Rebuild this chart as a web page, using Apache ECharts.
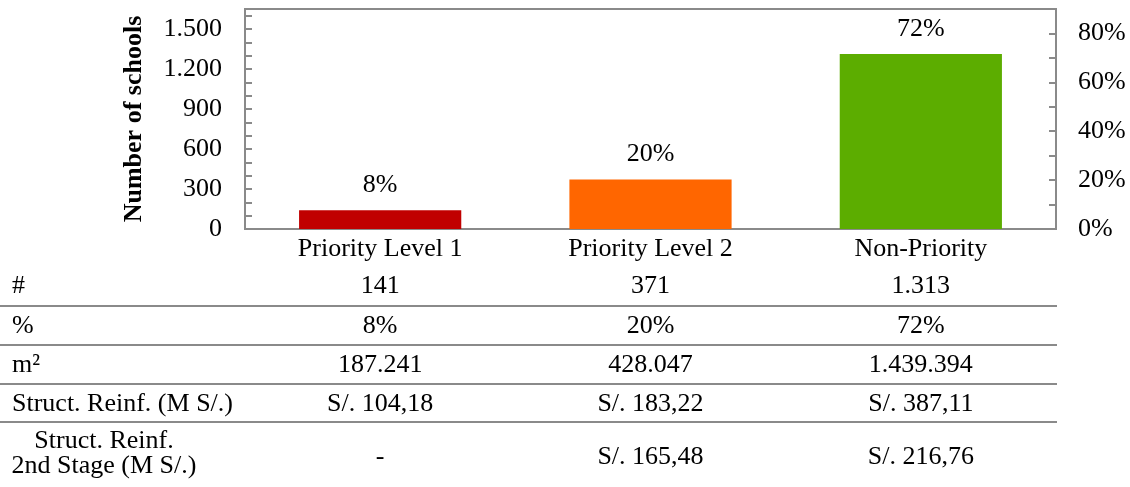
<!DOCTYPE html>
<html>
<head>
<meta charset="utf-8">
<script src="https://cdn.jsdelivr.net/npm/echarts@6/dist/echarts.min.js"></script>
<style>
  html, body { margin: 0; padding: 0; background: #fff; }
  #chart { width: 1130px; height: 487px; }
</style>
</head>
<body>
<div id="chart"></div>
<script>
// data
const categories = ['Priority Level 1', 'Priority Level 2', 'Non-Priority']
const schools = [141, 371, 1313]
const shares = ['8%', '20%', '72%']
const area = ['187.241', '428.047', '1.439.394']
const reinf = ['S/. 104,18', 'S/. 183,22', 'S/. 387,11']
const reinf2 = ['-', 'S/. 165,48', 'S/. 216,76']
const barColors = ['#c00000', '#ff6600', '#5cad00']
const rowLabels = ['#', '%', 'm²', 'Struct. Reinf. (M S/.)']

const font = 'Liberation Serif'
const fs = 26
const gray = '#8a8a8a'

const chart = echarts.init(document.getElementById('chart'))

const fmtThousands = v => String(v).replace(/\B(?=(\d{3})+(?!\d))/g, '.')

// each table row is an extra category axis under the grid
const tableRow = (data, offset) => ({
  type: 'category',
  data: data,
  position: 'bottom',
  offset: offset,
  axisLine: { show: false },
  axisTick: { show: false },
  splitLine: { show: false },
  axisLabel: {
    margin: 0,
    verticalAlign: 'middle',
    color: '#000',
    fontFamily: font,
    fontSize: fs
  }
})

const tableLines = [306, 345, 384, 422].map(y => ({
  type: 'line',
  shape: { x1: 0, y1: y, x2: 1057, y2: y },
  style: { stroke: gray, lineWidth: 2 }
}))

const rowTexts = rowLabels.map((t, i) => ({
  type: 'text',
  left: 12,
  top: [287, 327, 366, 405][i] - 14,
  style: { text: t, fill: '#000', font: fs + 'px "' + font + '"' }
}))

const option = {
  animation: false,
  grid: {
    left: 245,
    right: 74,
    top: 9,
    bottom: 258,
    show: true,
    borderColor: gray,
    borderWidth: 2
  },
  xAxis: [
    {
      type: 'category',
      data: categories,
      axisLine: { lineStyle: { color: gray, width: 2 } },
      axisTick: { show: false },
      axisLabel: {
        margin: 20,
        verticalAlign: 'middle',
        color: '#000',
        fontFamily: font,
        fontSize: fs
      }
    },
    tableRow(schools.map(fmtThousands), 57),
    tableRow(shares, 97),
    tableRow(area, 136),
    tableRow(reinf, 175),
    tableRow(reinf2, 228)
  ],
  yAxis: [
    {
      type: 'value',
      min: 0,
      max: 1650,
      interval: 100,
      name: 'Number of schools',
      nameLocation: 'middle',
      nameGap: 98,
      nameTextStyle: { color: '#000', fontFamily: font, fontSize: fs, fontWeight: 'bold' },
      axisLine: { show: true, lineStyle: { color: gray, width: 2 } },
      axisTick: { show: true, inside: true, length: 7, lineStyle: { color: gray, width: 2 } },
      splitLine: { show: false },
      axisLabel: {
        margin: 23,
        color: '#000',
        fontFamily: font,
        fontSize: fs,
        formatter: v => (v % 300 === 0 ? fmtThousands(v) : '')
      }
    },
    {
      type: 'value',
      min: 0,
      max: 90,
      interval: 10,
      position: 'right',
      axisLine: { show: true, lineStyle: { color: gray, width: 2 } },
      axisTick: { show: true, inside: true, length: 7, lineStyle: { color: gray, width: 2 } },
      splitLine: { show: false },
      axisLabel: {
        margin: 22,
        color: '#000',
        fontFamily: font,
        fontSize: fs,
        formatter: v => (v % 20 === 0 ? v + '%' : '')
      }
    }
  ],
  series: [
    {
      type: 'bar',
      xAxisIndex: 0,
      yAxisIndex: 0,
      barWidth: '60%',
      data: schools.map((v, i) => ({ value: v, itemStyle: { color: barColors[i] } })),
      label: {
        show: true,
        position: 'top',
        distance: 12,
        color: '#000',
        fontFamily: font,
        fontSize: fs,
        formatter: p => shares[p.dataIndex]
      }
    }
  ],
  graphic: [
    ...tableLines,
    ...rowTexts,
    {
      type: 'text',
      x: 104,
      y: 441,
      style: {
        text: 'Struct. Reinf.',
        fill: '#000',
        font: fs + 'px "' + font + '"',
        align: 'center',
        verticalAlign: 'middle'
      }
    },
    {
      type: 'text',
      x: 104,
      y: 466,
      style: {
        text: '2nd Stage (M S/.)',
        fill: '#000',
        font: fs + 'px "' + font + '"',
        align: 'center',
        verticalAlign: 'middle'
      }
    }
  ]
}

chart.setOption(option)
window.addEventListener('resize', () => chart.resize())
</script>
</body>
</html>
